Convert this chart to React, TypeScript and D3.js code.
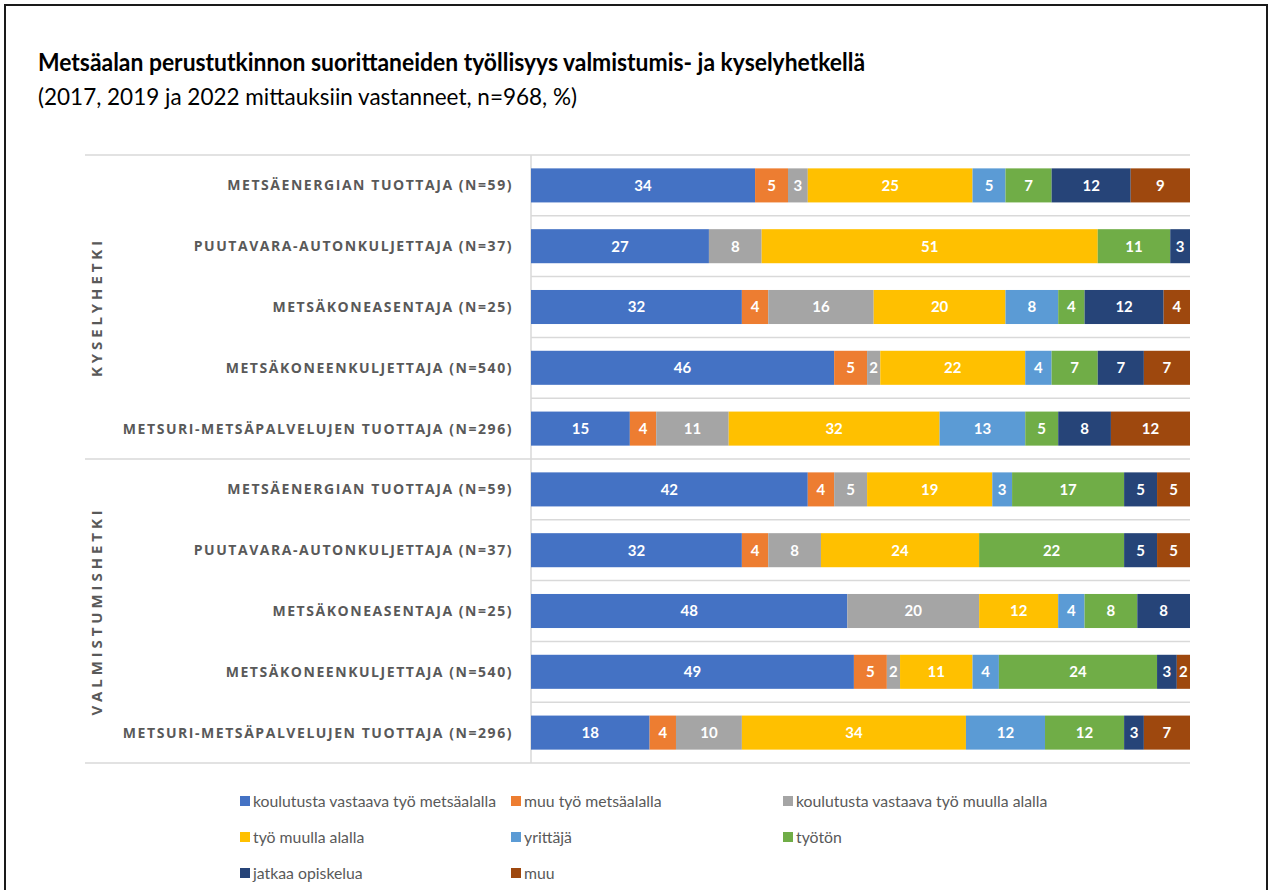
import React from 'react'
import * as d3 from 'd3'

const seriesNames = [
  'koulutusta vastaava työ metsäalalla',
  'muu työ metsäalalla',
  'koulutusta vastaava työ muulla alalla',
  'työ muulla alalla',
  'yrittäjä',
  'työtön',
  'jatkaa opiskelua',
  'muu',
]
const seriesColors = ['#4472C4', '#ED7D31', '#A5A5A5', '#FFC000', '#5B9BD5', '#70AD47', '#264478', '#9E480E']

const occupations = [
  'METSÄENERGIAN TUOTTAJA (N=59)',
  'PUUTAVARA-AUTONKULJETTAJA (N=37)',
  'METSÄKONEASENTAJA (N=25)',
  'METSÄKONEENKULJETTAJA (N=540)',
  'METSURI-METSÄPALVELUJEN TUOTTAJA (N=296)',
]
const groups = ['KYSELYHETKI', 'VALMISTUMISHETKI']

// values in series order, one row per occupation
const kyselyValues = [
  [34, 5, 3, 25, 5, 7, 12, 9],
  [27, 0, 8, 51, 0, 11, 3, 0],
  [32, 4, 16, 20, 8, 4, 12, 4],
  [46, 5, 2, 22, 4, 7, 7, 7],
  [15, 4, 11, 32, 13, 5, 8, 12],
]
const valmistumisValues = [
  [42, 4, 5, 19, 3, 17, 5, 5],
  [32, 4, 8, 24, 0, 22, 5, 5],
  [48, 0, 20, 12, 4, 8, 8, 0],
  [49, 5, 2, 11, 4, 24, 3, 2],
  [18, 4, 10, 34, 12, 12, 3, 7],
]

const title = 'Metsäalan perustutkinnon suorittaneiden työllisyys valmistumis- ja kyselyhetkellä'
const subtitle = '(2017, 2019 ja 2022 mittauksiin vastanneet, n=968, %)'

const W = 1273
const H = 890
const font = "Lato, 'Noto Sans', sans-serif"
const labelFont = "'Open Sans', 'Noto Sans', sans-serif"
const gridColor = '#D9D9D9'
const textGray = '#595959'

const rows = [
  ...kyselyValues.map((v, i) => ({ id: `k${i}`, group: 0, label: occupations[i], values: v })),
  ...valmistumisValues.map((v, i) => ({ id: `v${i}`, group: 1, label: occupations[i], values: v })),
]

const App = () => {
  const x = d3.scaleLinear().domain([0, 100]).range([531, 1190])
  const y = d3
    .scaleBand()
    .domain(rows.map((r) => r.id))
    .range([155, 763])
    .paddingInner(0.44)
    .paddingOuter(0.22)
  const step = y.step()

  const stack = d3
    .stack<any>()
    .keys(seriesNames.map((_, i) => String(i)))
    .value((d, key) => d.values[+key])
  const layers = stack(rows)

  const groupY = (g) => {
    const ids = rows.filter((r) => r.group === g).map((r) => r.id)
    return (y(ids[0]) + y(ids[ids.length - 1]) + y.bandwidth()) / 2
  }

  const legendCols = [240, 511, 783]
  const legendRows = [801, 837, 873]

  return (
    <div style={{ position: 'absolute', left: 0, top: 0 }}>
      <svg width={W} height={H} style={{ display: 'block', background: '#fff' }}>
        <rect x={5} y={5} width={1262} height={H + 10} fill="#fff" stroke="#1a1a1a" strokeWidth={2} />

        <text
          x={38}
          y={71}
          fontFamily={font}
          fontWeight="bold"
          fontSize={24}
          fill="#000"
          textLength={827}
          lengthAdjust="spacingAndGlyphs"
        >
          {title}
        </text>
        <text
          x={38}
          y={105}
          fontFamily={font}
          fontSize={23}
          fill="#000"
          textLength={539}
          lengthAdjust="spacingAndGlyphs"
        >
          {subtitle}
        </text>

        {/* grid: outer and group separator lines span the label area */}
        {d3.range(rows.length + 1).map((i) => {
          const yy = 155 + i * step
          const full = i === 0 || i === 5 || i === rows.length
          return (
            <line
              key={i}
              x1={full ? 85 : 531}
              x2={1190}
              y1={yy}
              y2={yy}
              stroke={gridColor}
              strokeWidth={1.5}
            />
          )
        })}
        <line x1={531} x2={531} y1={155} y2={763} stroke={gridColor} strokeWidth={1.5} />

        {layers.map((layer, li) => (
          <g key={li} fill={seriesColors[li]}>
            {layer.map((d) => {
              const w = x(d[1]) - x(d[0])
              if (w <= 0) return null
              return (
                <g key={d.data.id}>
                  <rect x={x(d[0])} y={y(d.data.id)} width={w} height={y.bandwidth()} />
                  <text
                    x={x(d[0]) + w / 2}
                    y={y(d.data.id) + y.bandwidth() / 2}
                    dy="0.36em"
                    textAnchor="middle"
                    fontFamily={font}
                    fontSize={15}
                    fontWeight="bold"
                    fill="#fff"
                  >
                    {d.data.values[li]}
                  </text>
                </g>
              )
            })}
          </g>
        ))}

        {rows.map((r) => (
          <text
            key={r.id}
            x={513}
            y={y(r.id) + y.bandwidth() / 2}
            dy="0.36em"
            textAnchor="end"
            fontFamily={labelFont}
            fontWeight="bold"
            fontSize={14}
            letterSpacing={1.55}
            fill={textGray}
          >
            {r.label}
          </text>
        ))}

        {groups.map((g, gi) => (
          <text
            key={g}
            transform={`translate(97, ${groupY(gi)}) rotate(-90)`}
            dy="0.36em"
            textAnchor="middle"
            fontFamily={labelFont}
            fontWeight="bold"
            fontSize={15}
            letterSpacing={3.9}
            fill={textGray}
          >
            {g}
          </text>
        ))}

        {seriesNames.map((name, i) => {
          const cx = legendCols[i % 3]
          const cy = legendRows[Math.floor(i / 3)]
          return (
            <g key={name}>
              <rect x={cx} y={cy - 5} width={10} height={10} fill={seriesColors[i]} />
              <text x={cx + 13} y={cy} dy="0.36em" fontFamily={font} fontSize={15.8} fill={textGray}>
                {name}
              </text>
            </g>
          )
        })}
      </svg>
    </div>
  )
}

export default App
